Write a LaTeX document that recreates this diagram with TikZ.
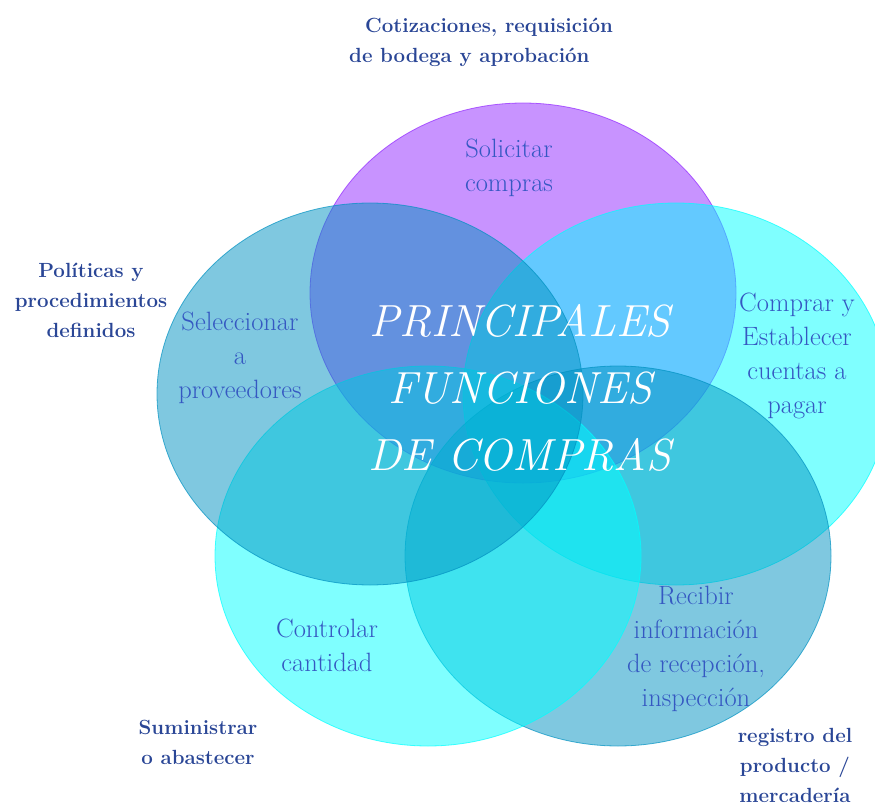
\documentclass[tikz,border=0pt]{standalone}
\usepackage{amsmath, amssymb}
\usepackage{tikz}
\usetikzlibrary{calc,backgrounds,shapes}

\definecolor{morado}{HTML}{9127FF}
\definecolor{azulc}{HTML}{0091C1}
\definecolor{cian}{HTML}{00FFFF}
\definecolor{txtin}{HTML}{3558C2}
\definecolor{txtout}{HTML}{2A4696}

\tikzset{
 elip/.style={fill=#1, fill opacity=.5, draw=#1, draw opacity=.7, line width=.8pt},
 dentro/.style={align=center, inner sep=0pt, text=txtin, font=\fontsize{26.5}{34}\selectfont},
 fuera/.style={align=center, inner sep=0pt, text=txtout, font=\bfseries\fontsize{20.5}{30}\selectfont},
 titulo/.style={align=center, inner sep=0pt, text=white, font=\itshape\fontsize{45}{67}\selectfont}
}

\begin{document}
\begin{tikzpicture}[x=1pt,y=-1pt]
\useasboundingbox (0,0) rectangle (875,805);
\clip (0,0) rectangle (875,805);
% los cinco circulos
\draw[elip=morado] (523,293) ellipse [x radius=213pt, y radius=190pt];
\draw[elip=cian] (676,394) ellipse [x radius=213pt, y radius=191pt];
\draw[elip=azulc] (618,556) ellipse [x radius=213pt, y radius=190pt];
\draw[elip=cian] (428,556) ellipse [x radius=213pt, y radius=190pt];
\draw[elip=azulc] (370,394) ellipse [x radius=213pt, y radius=191pt];

% textos de adentro
\node[dentro] (sol) at (509,168) {Solicitar\\compras};
\node[dentro] (sel) at (240,358) {Seleccionar\\a\\proveedores};
\node[dentro] (com) at (797,356) {Comprar y\\Establecer\\cuentas a\\pagar};
\node[dentro] (con) at (327,645) {Controlar\\cantidad};
\node[dentro] (rec) at (696,649) {Recibir\\informaci\'on\\de recepci\'on,\\inspecci\'on};

\node[titulo] (tit) at (520,388) {PRINCIPALES\\FUNCIONES\\DE COMPRAS}; %centro

% textos de afuera
\node[fuera, align=left, anchor=west] (cot) at (349,42) {\hspace*{16pt}Cotizaciones, requisici\'on\\de bodega y aprobaci\'on};
\node[fuera] (pol) at (91,300) {Pol\'iticas y\\procedimientos\\definidos};
\node[fuera] (sum) at (198,742) {Suministrar\\o abastecer};
\node[fuera, anchor=south] (reg) at (795,803) {registro del\\producto /\\mercader\'ia};
\end{tikzpicture}
\end{document}
